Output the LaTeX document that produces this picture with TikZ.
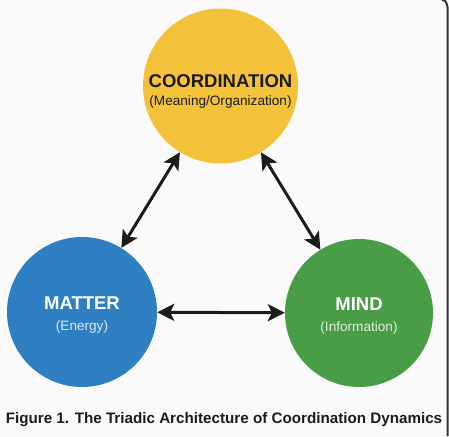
\documentclass[tikz,border=0pt]{standalone}
\usepackage{fontspec}
\setmainfont{Liberation Sans}
\usetikzlibrary{arrows.meta}

\definecolor{coordyellow}{HTML}{F3C23A}
\definecolor{matterblue}{HTML}{2F80C3}
\definecolor{mindgreen}{HTML}{4A9D47}
\definecolor{pagegray}{HTML}{FAFAFA}
\definecolor{inkblack}{HTML}{1C1C1C}

\newcommand{\poletitle}{\fontsize{18.5}{22}\selectfont\bfseries}
\newcommand{\polesub}{\fontsize{13.6}{16}\selectfont}

\begin{document}
\begin{tikzpicture}[x=1pt,y=-1pt,
    pole/.style={circle, minimum size=#1, inner sep=0pt},
    polelabel/.style={align=center, inner sep=0pt},
    twoway/.style={{Stealth[length=17pt,width=17pt,inset=4pt]}-{Stealth[length=17pt,width=17pt,inset=4pt]},
      line width=3pt, draw=inkblack}]
  \fill[pagegray] (0,0) rectangle (449,436);
  \useasboundingbox (0,0) rectangle (449,436);
  % the three poles
  \node[pole=155pt, fill=coordyellow] (coord) at (220.5,86) {};
  \node[pole=150pt, fill=matterblue] (matter) at (82,312) {};
  \node[pole=148pt, fill=mindgreen] (mind) at (359,313) {};
  \node[polelabel, text=inkblack] (coordtext) at ([yshift=-5pt]coord.center)
    {\poletitle COORDINATION\\[6pt]\polesub(Meaning/Organization)};
  \node[polelabel, text=white] (mattertext) at ([yshift=-3pt]matter.center)
    {\poletitle MATTER\\[9pt]\polesub\color{white!82!matterblue}(Energy)};
  \node[polelabel, text=white] (mindtext) at ([yshift=-3pt]mind.center)
    {\poletitle MIND\\[9pt]\polesub\color{white!82!mindgreen}(Information)};
  % couplings
  \draw[twoway] (matter) -- (coord);
  \draw[twoway] (coord) -- (mind);
  \draw[twoway] (matter) -- (mind);
  % caption
  \node[font=\fontsize{15.2}{18}\selectfont\bfseries, text=inkblack] (caption) at (224,420)
    {Figure 1. The Triadic Architecture of Coordination Dynamics};
  % window edge
  \draw[line width=2pt, draw=inkblack!90] (442,0) .. controls (446,1) .. (447.5,7) -- (447.5,436);
\end{tikzpicture}
\end{document}
